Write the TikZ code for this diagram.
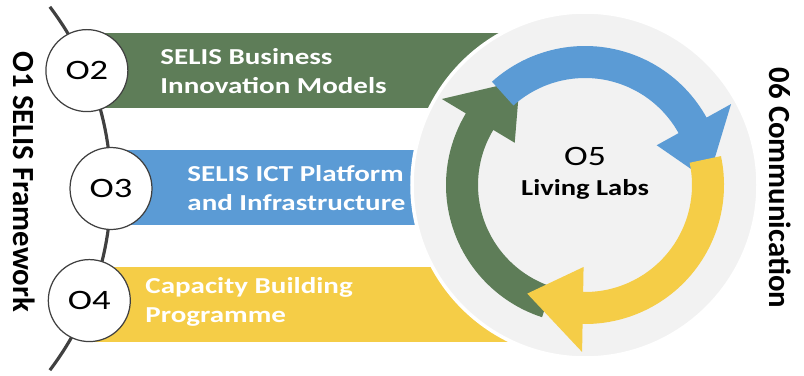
\documentclass[tikz,border=0pt]{standalone}
\usepackage{fontspec}
\setmainfont{Carlito}
\usetikzlibrary{calc,positioning}
\definecolor{selisgreen}{HTML}{5E7D58}
\definecolor{selisblue}{HTML}{5B9BD5}
\definecolor{selisyellow}{HTML}{F5CD47}
\definecolor{ringgrey}{HTML}{F2F2F2}
\definecolor{spinegrey}{HTML}{404040}
\tikzset{
  objcircle/.style={circle, draw=spinegrey, line width=0.7pt, fill=white,
    minimum size=1.64cm, inner sep=0pt},
  objlabel/.style={inner sep=0pt, xscale=1.3, font=\fontsize{16}{19}\selectfont},
  bartext/.style={anchor=base west, text=white, align=left, inner sep=0pt, xscale=1.27,
    font=\bfseries\fontsize{13}{16}\selectfont},
  sidetext/.style={rotate=-90, inner sep=0pt, font=\bfseries\fontsize{17.5}{20}\selectfont},
}
% one arrow of the cycle: band from tail angle #2, head at the end
\newcommand{\cyclearrow}[2]{%
  \fill[#1] ($(ring)+(#2:139)$) arc[start angle=#2, end angle=#2+103, radius=139]
    -- ($(ring)+(#2+103:167)$) -- ($(ring)+(#2+130:123)$) -- ($(ring)+(#2+103:82)$)
    -- ($(ring)+(#2+103:107)$) arc[start angle=#2+103, end angle=#2, radius=107] -- cycle;}
\begin{document}
\begin{tikzpicture}[x=0.02cm, y=-0.02cm]
    \useasboundingbox (0,0) rectangle (804,375);
    % Coloured bars
    \fill[selisgreen] (88,33) rectangle (520,108);
    \fill[selisblue] (111,150) rectangle (520,225);
    \fill[selisyellow] (90,267) rectangle (520,342);
    % Grey disc on the right
    \coordinate (ring) at (585,185);
    \filldraw[fill=ringgrey, draw=white, line width=2pt] (ring) circle[radius=173];
    % Curved spine through the circles
    \coordinate (spinecentre) at (-189.5,188.5);
    \coordinate (spinetop) at ($(spinecentre)+(-37.2:300.5)$);
    \draw[spinegrey, line width=1.8pt] (spinetop) arc[start angle=-37.2, end angle=37.2, radius=300.5];
    % Objective circles
    \node[objcircle] (o2) at ($(spinecentre)+(-23.1:300.5)$) {};
    \node[objcircle] (o3) at ($(spinecentre)+(0:300.5)$) {};
    \node[objcircle] (o4) at ($(spinecentre)+(21.9:300.5)$) {};
    \node[objlabel] (o2label) at (o2) {O2};
    \node[objlabel] (o3label) at (o3) {O3};
    \node[objlabel] (o4label) at (o4) {O4};
    % Bar labels (base = last line)
    \node[bartext] (bizmodels) at (160,93) {SELIS Business\\Innovation Models};
    \node[bartext] (ictplatform) at (187,210) {SELIS ICT Platform\\and Infrastructure};
    \node[bartext] (capacity) at (145,322) {Capacity Building\\Programme};
    % Cycle arrows
    \cyclearrow{selisgreen}{108}
    \cyclearrow{selisblue}{228}
    \cyclearrow{selisyellow}{348}
    % Centre text
    \node[anchor=base, inner sep=0pt, xscale=1.27, font=\fontsize{16}{19}\selectfont] (o5) at (585,165) {O5};
    \node[anchor=base, inner sep=0pt, xscale=1.25, font=\bfseries\fontsize{13}{16}\selectfont] (livinglabs) at (585,195) {Living Labs};
    % Side titles
    \node[sidetext] (framework) at (24,182) {O1 SELIS Framework};
    \node[sidetext] (communication) at (780,188) {06 Communication};
\end{tikzpicture}
\end{document}
